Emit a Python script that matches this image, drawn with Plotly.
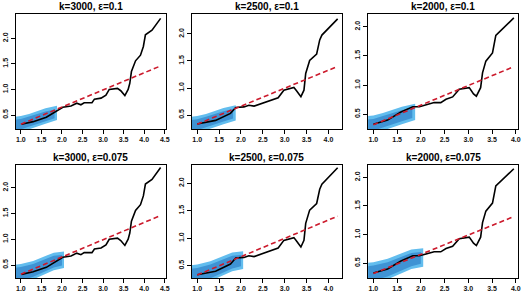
import plotly.graph_objects as go

# ---- data ----
titles = ["k=3000, ε=0.1", "k=2500, ε=0.1", "k=2000, ε=0.1",
          "k=3000, ε=0.075", "k=2500, ε=0.075", "k=2000, ε=0.075"]

# observed curves, one per k
x_k3000 = [1.016, 1.30, 1.62, 1.94, 2.02, 2.22, 2.36, 2.46, 2.54, 2.73, 2.79, 2.95, 3.07, 3.15,
           3.35, 3.43, 3.53, 3.61, 3.65, 3.69, 3.79, 3.91, 3.98, 4.03, 4.19, 4.40]
y_k3000 = [0.318, 0.37, 0.455, 0.61, 0.65, 0.676, 0.73, 0.70, 0.74, 0.74, 0.81, 0.83, 0.89, 1.0,
           1.02, 0.975, 0.88, 1.0, 1.12, 1.35, 1.56, 1.67, 1.84, 2.07, 2.16, 2.39]

x_k2500 = [1.0, 1.42, 1.76, 1.88, 2.07, 2.18, 2.30, 2.43, 2.56, 2.68, 2.85, 2.98, 3.21, 3.27,
           3.37, 3.44, 3.48, 3.57, 3.73, 3.80, 3.85, 4.21]
y_k2500 = [0.335, 0.40, 0.53, 0.64, 0.65, 0.68, 0.665, 0.70, 0.745, 0.78, 0.82, 0.96, 1.01, 0.95,
           0.84, 0.96, 1.27, 1.51, 1.63, 1.89, 1.98, 2.28]

x_k2000 = [1.0, 1.30, 1.58, 1.83, 1.97, 2.14, 2.28, 2.42, 2.53, 2.67, 2.81, 3.02, 3.11, 3.17,
           3.26, 3.30, 3.37, 3.51, 3.58, 3.96]
y_k2000 = [0.33, 0.40, 0.54, 0.63, 0.63, 0.67, 0.70, 0.70, 0.757, 0.797, 0.93, 0.956, 0.85, 0.81,
           0.956, 1.21, 1.41, 1.55, 1.85, 2.15]

# dashed reference lines (end points)
ref_x = [[1.0, 4.40], [1.0, 4.21], [1.0, 3.96]]
ref_y = [[0.32, 1.46], [0.33, 1.40], [0.32, 1.315]]

# bands: outer (light) and inner (dark), x / upper / lower
band_x_eps10 = [0.80, 1.0, 1.2, 1.4, 1.6, 1.88]
outer_up_eps10 = [0.46, 0.48, 0.52, 0.57, 0.63, 0.68]
outer_lo_eps10 = [0.16, 0.18, 0.22, 0.27, 0.33, 0.40]
inner_up_eps10 = [0.40, 0.42, 0.47, 0.52, 0.57, 0.62]
inner_lo_eps10 = [0.20, 0.22, 0.27, 0.33, 0.38, 0.45]
inner_xmax_eps10 = 1.82

band_x_eps075 = [0.80, 1.0, 1.3, 1.6, 1.8, 2.05]
outer_up_eps075 = [0.50, 0.52, 0.58, 0.68, 0.74, 0.76]
outer_lo_eps075 = [0.10, 0.14, 0.22, 0.33, 0.40, 0.44]
inner_up_eps075 = [0.44, 0.46, 0.52, 0.62, 0.68, 0.70]
inner_lo_eps075 = [0.16, 0.20, 0.27, 0.38, 0.45, 0.50]
inner_xmax_eps075 = 2.0

x_ranges = [[0.879, 4.524], [0.870, 4.318], [0.890, 4.048]]
y_ranges_top = [[0.226, 2.476], [0.241, 2.37], [0.248, 2.217]]
y_ranges_bot = [[0.248, 2.44], [0.276, 2.33], [0.243, 2.215]]
x_ticks = [[1.0, 1.5, 2.0, 2.5, 3.0, 3.5, 4.0, 4.5],
           [1.0, 1.5, 2.0, 2.5, 3.0, 3.5, 4.0],
           [1.0, 1.5, 2.0, 2.5, 3.0, 3.5, 4.0]]
y_ticks = [0.5, 1.0, 1.5, 2.0]

curves = [(x_k3000, y_k3000), (x_k2500, y_k2500), (x_k2000, y_k2000)]

W, H = 525, 296
x_dom_px = [(16, 167), (193, 345), (371, 522)]
y_dom_px = [(14, 129), (165, 278)]

LIGHT = "#62BDEE"
DARK = "#3F93D4"
RED = "#CC1A2C"

fig = go.Figure()


def poly(xs, up, lo, xmax):
    px = [x for x in xs if x < xmax] + [xmax]
    def interp(arr, xv):
        for i in range(len(xs) - 1):
            if xs[i] <= xv <= xs[i + 1]:
                t = (xv - xs[i]) / (xs[i + 1] - xs[i])
                return arr[i] + t * (arr[i + 1] - arr[i])
        return arr[-1]
    pu = [interp(up, x) for x in px]
    pl = [interp(lo, x) for x in px]
    return px + px[::-1] + [px[0]], pu + pl[::-1] + [pu[0]]


for row in range(2):
    for col in range(3):
        idx = row * 3 + col + 1
        sfx = "" if idx == 1 else str(idx)
        xa, ya = "x" + sfx, "y" + sfx
        if row == 0:
            bx, ou, ol, iu, il, ixm = (band_x_eps10, outer_up_eps10, outer_lo_eps10,
                                       inner_up_eps10, inner_lo_eps10, inner_xmax_eps10)
        else:
            bx, ou, ol, iu, il, ixm = (band_x_eps075, outer_up_eps075, outer_lo_eps075,
                                       inner_up_eps075, inner_lo_eps075, inner_xmax_eps075)
        px_, py_ = poly(bx, ou, ol, bx[-1])
        fig.add_trace(go.Scatter(x=px_, y=py_, fill="toself", fillcolor=LIGHT, line=dict(width=0),
                                 mode="lines", xaxis=xa, yaxis=ya, showlegend=False, hoverinfo="skip"))
        px_, py_ = poly(bx, iu, il, ixm)
        fig.add_trace(go.Scatter(x=px_, y=py_, fill="toself", fillcolor=DARK, line=dict(width=0),
                                 mode="lines", xaxis=xa, yaxis=ya, showlegend=False, hoverinfo="skip"))
        cx, cy = curves[col]
        fig.add_trace(go.Scatter(x=cx, y=cy, mode="lines", line=dict(color="black", width=1.6),
                                 xaxis=xa, yaxis=ya, showlegend=False))
        fig.add_trace(go.Scatter(x=ref_x[col], y=ref_y[col], mode="lines",
                                 line=dict(color=RED, width=1.6, dash="5px,3px"),
                                 xaxis=xa, yaxis=ya, showlegend=False))

        x0, x1 = x_dom_px[col]
        y0, y1 = y_dom_px[row]
        yr = y_ranges_top[col] if row == 0 else y_ranges_bot[col]
        axis_common = dict(showline=True, linecolor="black", linewidth=1, mirror=True,
                           ticks="outside", ticklen=4, tickcolor="black", tickwidth=1,
                           showgrid=False, zeroline=False,
                           tickfont=dict(family="Liberation Sans, Arial", size=7, color="#111"))
        fig.layout["xaxis" + sfx] = dict(domain=[x0 / W, x1 / W], range=x_ranges[col],
                                         anchor=ya, tickvals=x_ticks[col],
                                         ticktext=[f"<b>{v:.1f}</b>" for v in x_ticks[col]],
                                         **axis_common)
        fig.layout["yaxis" + sfx] = dict(domain=[1 - y1 / H, 1 - y0 / H], range=yr,
                                         anchor=xa, tickvals=y_ticks, tickangle=-90,
                                         ticktext=[f"<b>{v:.1f}</b>" for v in y_ticks],
                                         **axis_common)
        fig.add_annotation(text="<b>" + titles[idx - 1] + "</b>", xref="paper", yref="paper",
                           x=(x0 + x1) / 2 / W, y=1 - (y0 - 8) / H, showarrow=False,
                           font=dict(family="Liberation Sans, Arial", size=10, color="black"),
                           xanchor="center", yanchor="middle")

fig.update_layout(width=W, height=H, margin=dict(l=0, r=0, t=0, b=0),
                  plot_bgcolor="white", paper_bgcolor="white")
fig.write_html("out.html", config={"displayModeBar": False},
               post_script="document.body.style.margin='0';document.body.style.overflow='hidden';")
